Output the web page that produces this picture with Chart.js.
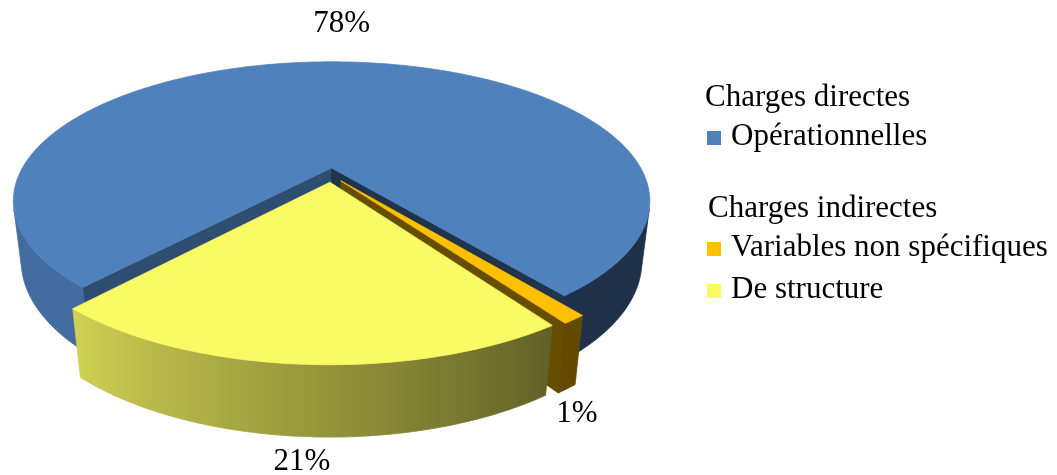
<!DOCTYPE html>
<html lang="fr">
<head>
<meta charset="UTF-8">
<title>Répartition des charges</title>
<style>
  body { margin: 0; background: #fff; }
  .cadre { position: relative; width: 1057px; height: 475px; font-family: "Liberation Serif", "Times New Roman", serif; }
  #graphique { position: absolute; left: 0; top: 0; }
  .legende .ligne { position: absolute; font-size: 31px; line-height: 31px; white-space: nowrap; color: #000; }
  .legende .carre { position: absolute; width: 14px; height: 14px; }
</style>
</head>
<body>
<div class="cadre">
  <canvas id="graphique" width="1057" height="475"></canvas>
  <div class="legende" id="legende"></div>
</div>

<script src="https://cdn.jsdelivr.net/npm/chart.js"></script>
<script>
// données
const categories = ['Opérationnelles', 'Variables non spécifiques', 'De structure'];
const groupes = ['Charges directes', 'Charges indirectes'];
const groupeDe = [0, 1, 1];
const parts = [78, 1, 21];
const couleurs = ['#4f81bd', '#ffc000', '#fafa64'];

// assombrit une couleur hex d'un facteur
function ombrer(hex, f) {
  const n = parseInt(hex.slice(1), 16);
  const r = Math.round(((n >> 16) & 255) * f);
  const g = Math.round(((n >> 8) & 255) * f);
  const b = Math.round((n & 255) * f);
  return `rgb(${r},${g},${b})`;
}

// lumière des flancs selon l'angle (degrés depuis midi, sens horaire)
function lumiere(t) {
  if (t <= 145) return 0.38;
  if (t >= 222) return 0.84;
  return 0.38 + (t - 145) / (222 - 145) * 0.46;
}

// camembert 3D en perspective, construit à partir des arcs calculés par Chart.js
const camembert3d = {
  id: 'camembert3d',
  beforeDatasetsDraw(chart, args, opts) {
    const ctx = chart.ctx;
    const arcs = chart.getDatasetMeta(0).data;
    if (!arcs.length) return;
    const cx = arcs[0].x, cy = arcs[0].y;
    const K = arcs[0].outerRadius * opts.echelle;
    const SIN = Math.sin(opts.inclinaison), COS = Math.cos(opts.inclinaison);
    const D = COS / opts.perspective;
    const F = K * D;
    const h = opts.hauteur, o = opts.eclatement;
    const cam = [0, -D * COS, D * SIN];

    function proj(X, Y, Z) {
      const zc = D + Y * COS - Z * SIN;
      return [cx + F * X / zc, cy - F * (Y * SIN + Z * COS) / zc];
    }
    function visible(nx, ny, px, py) {
      return nx * (cam[0] - px) + ny * (cam[1] - py) > 0;
    }
    function poly(pts, fill) {
      ctx.beginPath();
      pts.forEach((p, i) => i ? ctx.lineTo(p[0], p[1]) : ctx.moveTo(p[0], p[1]));
      ctx.closePath();
      ctx.fillStyle = fill;
      ctx.strokeStyle = fill;
      ctx.lineWidth = 0.8;
      ctx.fill();
      ctx.stroke();
    }
    const deg = a => (((a * 180 / Math.PI + 90) % 360) + 360) % 360;

    const ordre = arcs.map((a, i) => i)
      .sort((i, j) => {
        const mi = (arcs[i].startAngle + arcs[i].endAngle) / 2;
        const mj = (arcs[j].startAngle + arcs[j].endAngle) / 2;
        return Math.sin(mi) - Math.sin(mj); // le plus loin d'abord
      });

    ctx.save();
    ordre.forEach(i => {
      const arc = arcs[i];
      const sa = arc.startAngle, ea = arc.endAngle;
      const mid = (sa + ea) / 2;
      const ox = o * Math.cos(mid), oy = -o * Math.sin(mid);
      const coul = chart.data.datasets[0].backgroundColor[i];
      const bord = (a, Z) => proj(ox + Math.cos(a), oy - Math.sin(a), Z);
      const centre = Z => proj(ox, oy, Z);

      // faces de coupe
      const ns = sa - Math.PI / 2;
      if (visible(Math.cos(ns), -Math.sin(ns), ox + 0.5 * Math.cos(sa), oy - 0.5 * Math.sin(sa))) {
        poly([centre(0), bord(sa, 0), bord(sa, -h), centre(-h)], ombrer(coul, 0.6));
      }
      const ne = ea + Math.PI / 2;
      if (visible(Math.cos(ne), -Math.sin(ne), ox + 0.5 * Math.cos(ea), oy - 0.5 * Math.sin(ea))) {
        poly([centre(0), bord(ea, 0), bord(ea, -h), centre(-h)], ombrer(coul, 0.4));
      }

      // flanc extérieur, par tronçons visibles
      const n = Math.max(2, Math.ceil((ea - sa) / 0.01));
      const ang = [];
      for (let k = 0; k <= n; k++) ang.push(sa + (ea - sa) * k / n);
      const troncons = [];
      let cur = null;
      for (let k = 0; k < n; k++) {
        const am = (ang[k] + ang[k + 1]) / 2;
        const vis = visible(Math.cos(am), -Math.sin(am), ox + Math.cos(am), oy - Math.sin(am));
        if (vis) {
          if (!cur) { cur = [k]; troncons.push(cur); }
          cur.push(k + 1);
        } else cur = null;
      }
      troncons.forEach(t => {
        const haut = t.map(k => bord(ang[k], 0));
        const bas = t.map(k => bord(ang[k], -h)).reverse();
        const xs = haut.map(p => p[0]);
        const xmin = Math.min(...xs), xmax = Math.max(...xs);
        let fond;
        if (xmax - xmin < 2) {
          fond = ombrer(coul, lumiere(deg(ang[t[0]])));
        } else {
          fond = ctx.createLinearGradient(xmin, 0, xmax, 0);
          t.forEach((k, j) => {
            if (j % 4 && j !== t.length - 1) return;
            fond.addColorStop((xs[j] - xmin) / (xmax - xmin), ombrer(coul, lumiere(deg(ang[k]))));
          });
        }
        poly(haut.concat(bas), fond);
      });

      // dessus
      const dessus = [centre(0)];
      ang.forEach(a => dessus.push(bord(a, 0)));
      poly(dessus, coul);
    });

    // étiquettes de pourcentage
    ctx.fillStyle = '#000';
    ctx.font = `${opts.taillePolice}px "Liberation Serif", "Times New Roman", serif`;
    ctx.textAlign = 'center';
    ctx.textBaseline = 'alphabetic';
    arcs.forEach((arc, i) => {
      const mid = (arc.startAngle + arc.endAngle) / 2;
      const ox = o * Math.cos(mid), oy = -o * Math.sin(mid);
      const loin = -Math.sin(mid) > 0;
      const p = proj(ox + Math.cos(mid), oy - Math.sin(mid), loin ? 0 : -h);
      const vx = p[0] - cx, vy = p[1] - cy;
      const l = Math.hypot(vx, vy) || 1;
      const ecart = loin ? 40 : 23;
      const x = p[0] + vx / l * ecart * 0.6, y = p[1] + (loin ? -ecart : ecart);
      ctx.fillText(chart.data.datasets[0].data[i] + '%', x, y + 10);
    });
    ctx.restore();
    return false;
  }
};

new Chart(document.getElementById('graphique'), {
  type: 'pie',
  data: {
    labels: categories,
    datasets: [{
      data: parts,
      backgroundColor: couleurs,
      borderWidth: 0
    }]
  },
  options: {
    responsive: false,
    animation: false,
    rotation: 221.5,
    layout: { padding: { left: 0, top: 0, right: 395, bottom: 125 } },
    plugins: {
      legend: { display: false },
      tooltip: { enabled: false },
      camembert3d: {
        echelle: 1.789,
        inclinaison: 0.4446,
        perspective: 0.24,
        hauteur: 0.214,
        eclatement: 0.053,
        taillePolice: 31
      }
    }
  },
  plugins: [camembert3d]
});

// légende groupée (titres + éléments)
const legende = document.getElementById('legende');
let base = 106;
groupes.forEach((g, gi) => {
  if (gi > 0) base += 72;
  const titre = document.createElement('div');
  titre.className = 'ligne';
  titre.textContent = g;
  titre.style.left = (705 + gi * 3) + 'px';
  titre.style.top = (base - 26) + 'px';
  legende.appendChild(titre);
  let rang = 0;
  categories.forEach((c, ci) => {
    if (groupeDe[ci] !== gi) return;
    base += rang ? 42 : 39;
    rang++;
    const carre = document.createElement('span');
    carre.className = 'carre';
    carre.style.background = couleurs[ci];
    carre.style.left = '707px';
    carre.style.top = (base - 14) + 'px';
    legende.appendChild(carre);
    const t = document.createElement('div');
    t.className = 'ligne';
    t.textContent = c;
    t.style.left = '731px';
    t.style.top = (base - 26) + 'px';
    legende.appendChild(t);
  });
});
</script>
</body>
</html>
